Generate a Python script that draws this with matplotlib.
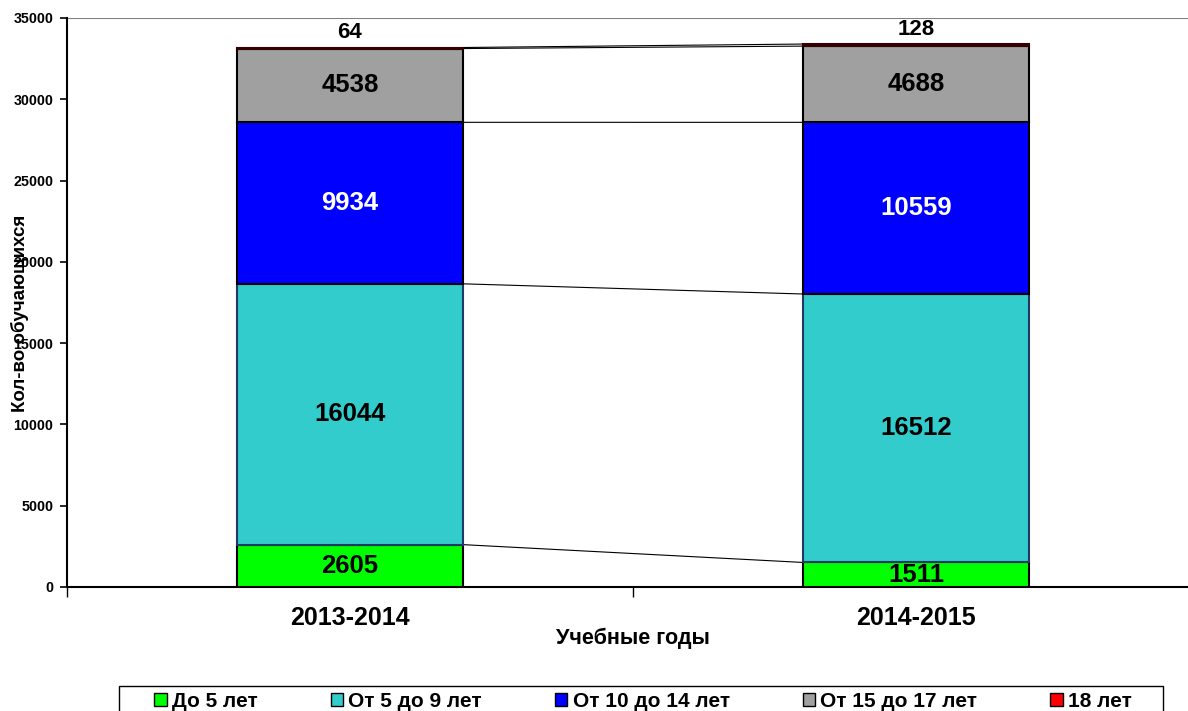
import matplotlib
matplotlib.use("Agg")
import matplotlib.pyplot as plt
from matplotlib.patches import Patch, Rectangle
import numpy as np

plt.rcParams['font.family'] = ['Liberation Sans', 'DejaVu Sans']
plt.rcParams['font.weight'] = 'bold'

# data
years = ['2013-2014', '2014-2015']
groups = ['До 5 лет', 'От 5 до 9 лет', 'От 10 до 14 лет', 'От 15 до 17 лет', '18 лет']
do5 = [2605, 1511]
ot5do9 = [16044, 16512]
ot10do14 = [9934, 10559]
ot15do17 = [4538, 4688]
let18 = [64, 128]

series = [do5, ot5do9, ot10do14, ot15do17, let18]
colors = ['#00FF00', '#33CCCC', '#0000FF', '#A0A0A0', '#FF0000']
edges = ['black', '#1F3864', 'black', 'black', '#330000']
label_colors = ['black', 'black', 'white', 'black', 'black']

W, H = 1188, 711
fig = plt.figure(figsize=(W / 100, H / 100), dpi=100)
ax = fig.add_axes([67 / W, (H - 587) / H, (1199 - 67) / W, (587 - 18) / H])

x = np.arange(len(years))
bw = 0.4
bottom = np.zeros(len(years))
tops = []
for i, vals in enumerate(series):
    ax.bar(x, vals, bw, bottom=bottom, color=colors[i], edgecolor=edges[i],
           linewidth=1.5, zorder=3)
    for j, v in enumerate(vals):
        if i == len(series) - 1:
            ax.annotate(str(v), (x[j], bottom[j] + v), xytext=(0, 3),
                        textcoords='offset points', ha='center', va='bottom',
                        fontsize=16, fontweight='bold', color=label_colors[i])
        else:
            ax.text(x[j], bottom[j] + v / 2, str(v), ha='center', va='center',
                    fontsize=18.5, fontweight='bold', color=label_colors[i], zorder=4)
    bottom = bottom + np.array(vals)
    tops.append(bottom.copy())

# series lines between the bars
for t in tops:
    ax.plot([x[0] + bw / 2, x[1] - bw / 2], [t[0], t[1]], color='black', lw=0.8, zorder=2)

ax.set_xlim(-0.5, 1.5)
ax.set_ylim(0, 35000)
ax.axhline(35000, color='#808080', lw=1.5, zorder=1)
ax.set_yticks(np.arange(0, 35001, 5000))
ax.tick_params(axis='y', direction='out', length=5, width=1.2, pad=5, labelsize=10.3)
ax.set_xticks([-0.5, 0.5, 1.5])
ax.set_xticklabels([])
ax.set_xticks(x, minor=True)
ax.set_xticklabels(years, minor=True, fontsize=18, fontweight='bold')
ax.tick_params(axis='x', which='major', direction='out', length=7, width=1)
ax.tick_params(axis='x', which='minor', length=0, pad=14)
for lab in ax.get_yticklabels():
    lab.set_fontweight('bold')

for s in ['top', 'right']:
    ax.spines[s].set_visible(False)
ax.spines['left'].set_linewidth(1.5)
ax.spines['bottom'].set_linewidth(1.5)

fig.text(633 / W, 1 - 638 / H, 'Учебные годы', ha='center', va='center',
         fontsize=15.5, fontweight='bold')
fig.text(20 / W, 1 - 313 / H, 'Кол-во обучающихся', ha='center', va='center',
         rotation=90, fontsize=13.5, fontweight='bold')

handles = [Patch(facecolor=c, edgecolor='black', linewidth=1) for c in colors]
leg = fig.legend(handles, groups, ncol=5, loc='upper center',
                 bbox_to_anchor=(643 / W, 1 - 686 / H),
                 frameon=False,
                 handlelength=0.6, handleheight=0.6, handletextpad=0.25,
                 columnspacing=3.5, borderaxespad=0, borderpad=0.28,
                 prop={'weight': 'bold', 'size': 15})
# legend frame spans wider than the entries
fig.add_artist(Rectangle((119 / W, -0.02), 1044 / W, 1 - 686 / H + 0.02,
                         transform=fig.transFigure, fill=False,
                         edgecolor='black', linewidth=1))

fig.savefig('out.png', dpi=100)
